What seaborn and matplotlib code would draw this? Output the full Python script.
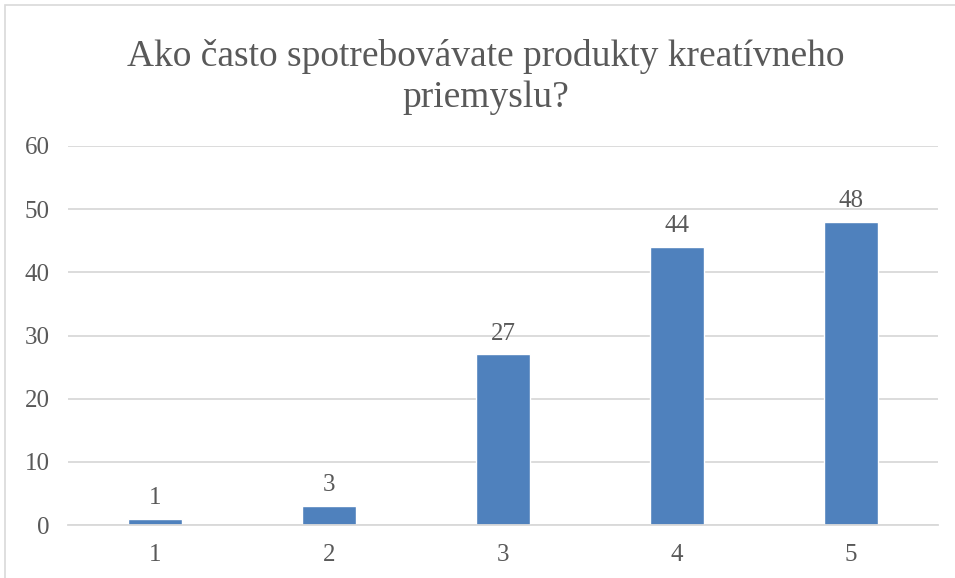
import matplotlib
matplotlib.use("Agg")
import matplotlib.pyplot as plt
import seaborn as sns
import pandas as pd
from matplotlib.patches import Rectangle

categories = ["1", "2", "3", "4", "5"]
values = [1, 3, 27, 44, 48]
title = "Ako často spotrebovávate produkty kreatívneho\npriemyslu?"
yticks = [0, 10, 20, 30, 40, 50, 60]

sns.set_theme(style="white")
plt.rcParams['font.family'] = ['Liberation Serif', 'DejaVu Serif']

text_color = "#595959"
grid_color = "#D9D9D9"
bar_color = "#4F81BD"

df = pd.DataFrame({"cat": categories, "val": values})

fig = plt.figure(figsize=(9.55, 5.78), dpi=100)
ax = fig.add_axes([68/955, 1-525/578, (938-68)/955, (525-146)/578])

sns.barplot(data=df, x="cat", y="val", color=bar_color, width=0.316,
            saturation=1, ax=ax, zorder=3)

ax.set_ylim(0, 60)
ax.set_xlim(-0.5, 4.5)
ax.set_yticks(yticks)
ax.set_yticklabels([str(t) for t in yticks])
ax.yaxis.grid(True, color=grid_color, linewidth=1.3, zorder=0)
ax.xaxis.grid(False)
for s in ["left", "right", "top"]:
    ax.spines[s].set_visible(False)
ax.spines["bottom"].set_color(grid_color)
ax.spines["bottom"].set_linewidth(1.3)
ax.spines["bottom"].set_zorder(4)
ax.tick_params(axis="both", length=0, labelsize=18, colors=text_color)
ax.tick_params(axis="y", pad=13)
ax.tick_params(axis="x", pad=14)
ax.set_xlabel("")
ax.set_ylabel("")

for i, v in enumerate(values):
    ax.annotate(str(v), (i, v), xytext=(0, 7), textcoords="offset points",
                ha="center", va="bottom", fontsize=18, color=text_color)

fig.text(486/955, 1-77/578, title, ha="center", va="center", fontsize=27,
         color=text_color, linespacing=1.22)

fig.patches.append(Rectangle((5/955, -0.1), 1.2, 1.1 - 5/578,
                             transform=fig.transFigure, fill=False,
                             edgecolor=grid_color, linewidth=1.2))

fig.savefig("out.png", dpi=100)
